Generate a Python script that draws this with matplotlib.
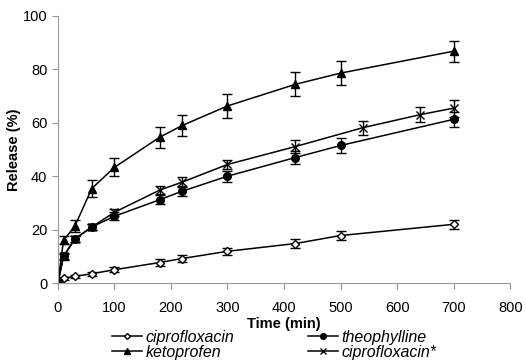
import matplotlib.pyplot as plt
import numpy as np

plt.rcParams['font.family'] = ['Liberation Sans', 'DejaVu Sans']

t_std = [0, 10, 30, 60, 100, 180, 220, 300, 420, 500, 700]
t_star = [0, 10, 30, 60, 100, 180, 220, 300, 420, 540, 640, 700]

cipro = [0, 1.8, 2.5, 3.5, 5.0, 7.7, 9.2, 11.9, 14.8, 17.8, 22.0]
cipro_err = [0, 0.6, 0.6, 0.7, 0.9, 1.2, 1.3, 1.4, 1.6, 1.6, 1.7]
theo = [0, 10.0, 16.5, 21.0, 25.0, 31.2, 34.4, 40.0, 47.0, 51.5, 61.3]
theo_err = [0, 1.2, 1.2, 1.3, 1.5, 1.6, 1.8, 2.0, 2.3, 2.7, 2.9]
keto = [0, 16.0, 21.3, 35.4, 43.3, 54.6, 59.0, 66.3, 74.4, 78.6, 86.8]
keto_err = [0, 1.5, 2.2, 3.0, 3.4, 4.0, 4.1, 4.5, 4.5, 4.4, 4.0]
cipro2 = [0, 10.0, 16.5, 21.0, 26.5, 34.8, 37.8, 44.4, 51.1, 58.2, 63.0, 65.5]
cipro2_err = [0, 1.0, 1.0, 1.2, 1.4, 1.6, 1.8, 1.8, 2.4, 2.6, 2.8, 3.2]

fig = plt.figure(figsize=(5.26, 3.62), dpi=100)
ax = fig.add_axes([0.110, 0.218, 0.860, 0.738])

kw = dict(color='black', lw=1.1, capsize=3.5, elinewidth=1.0, capthick=1.0)
h1 = ax.errorbar(t_std, cipro, yerr=cipro_err, marker='D', ms=4, mfc='white', mec='black', mew=1.0, **kw)
h2 = ax.errorbar(t_std, theo, yerr=theo_err, marker='o', ms=5.5, mfc='black', mec='black', **kw)
h3 = ax.errorbar(t_std, keto, yerr=keto_err, marker='^', ms=6, mfc='black', mec='black', **kw)
h4 = ax.errorbar(t_star, cipro2, yerr=cipro2_err, marker='x', ms=6, mec='black', mew=1.0, **kw)

ax.set_xlim(0, 800)
ax.set_ylim(0, 100)
ax.set_xticks(np.arange(0, 801, 100))
ax.set_yticks(np.arange(0, 101, 20))
for s in ['top', 'right']:
    ax.spines[s].set_visible(False)
for s in ['left', 'bottom']:
    ax.spines[s].set_color('#999999')
    ax.spines[s].set_linewidth(0.8)
ax.tick_params(axis='both', colors='#999999', labelcolor='black', labelsize=10.5, length=4, width=0.8)
ax.tick_params(axis='x', pad=9)
ax.set_xlabel('Time (min)', fontsize=10.5, fontweight='bold', labelpad=1)
ax.set_ylabel('Release (%)', fontsize=10.5, fontweight='bold', labelpad=1)

hs = [h1[0], h3[0], h2[0], h4[0]]
labels = ['ciprofloxacin', 'ketoprofen', 'theophylline', 'ciprofloxacin*']
leg = fig.legend(hs, labels, ncol=2, loc='upper left', bbox_to_anchor=(0.213, 1 - 330 / 362),
                 frameon=False, handlelength=1.9, handletextpad=0.2, columnspacing=4.6,
                 labelspacing=0.0, borderpad=0, borderaxespad=0,
                 prop={'style': 'italic', 'size': 11.5}, markerscale=0.75)

fig.savefig('out.png', dpi=100)
